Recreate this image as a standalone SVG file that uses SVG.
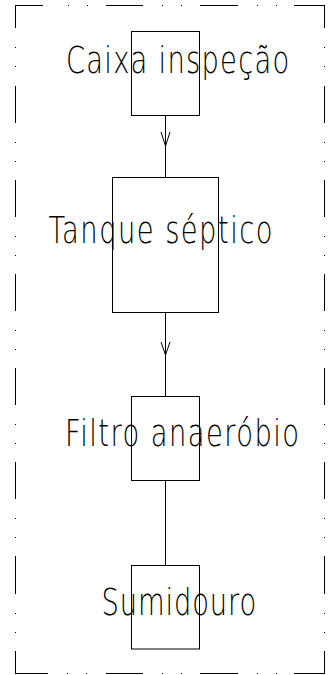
<svg xmlns="http://www.w3.org/2000/svg" width="334" height="675" viewBox="0 0 334 675">
<style>
.ln{fill:none;stroke:#000;stroke-width:1}
.box{fill:none;stroke:#000;stroke-width:1}
.lbl{font-family:"DejaVu Sans","Liberation Sans",sans-serif;font-weight:200;font-size:38px;fill:#000}
</style>
<rect x="0" y="0" width="334" height="675" fill="#fff"/>
<g id="frame" class="ln">
<path d="M16 5.5H43 M68 5.5h1 M87 5.5h1 M106 5.5H143 M162 5.5h1 M181 5.5h1 M200 5.5H238 M257 5.5h1 M276 5.5h1 M294 5.5H325"/>
<path d="M16 673.5H48 M67 673.5h1 M86 673.5h1 M106 673.5H143 M162 673.5h1 M181 673.5h1 M200 673.5H238 M257 673.5h1 M276 673.5h1 M294 673.5H325"/>
<path d="M15.5 5V28 M15.5 47v1 M15.5 66v1 M15.5 86V123 M15.5 142v1 M15.5 161v1 M15.5 180V217 M15.5 236v1 M15.5 255v1 M15.5 274V311 M15.5 330v1 M15.5 349v1 M15.5 368V405 M15.5 424v1 M15.5 443v1 M15.5 462V499 M15.5 518v1 M15.5 537v1 M15.5 556V594 M15.5 613v1 M15.5 632v1 M15.5 651V674"/>
<path d="M324.5 5V28 M324.5 47v1 M324.5 66v1 M324.5 86V123 M324.5 142v1 M324.5 161v1 M324.5 180V217 M324.5 236v1 M324.5 255v1 M324.5 274V311 M324.5 330v1 M324.5 349v1 M324.5 368V405 M324.5 424v1 M324.5 443v1 M324.5 462V499 M324.5 518v1 M324.5 537v1 M324.5 556V594 M324.5 613v1 M324.5 632v1 M324.5 651V674"/>
</g>
<g id="connectors" class="ln">
<path d="M165.5 115.5V177.5 M161 132L165.5 146L170 132"/>
<path d="M165.5 312.5V396.5 M161 342L165.5 355L170 342"/>
<path d="M165.5 480.5V565.5"/>
</g>
<g id="caixa">
<rect class="box" x="131.5" y="31.5" width="68" height="84"/>
<text class="lbl" transform="translate(66,72.7) scale(0.72,1)" x="0" y="0" textLength="310" lengthAdjust="spacing">Caixa inspeção</text>
</g>
<g id="tanque">
<rect class="box" x="112.5" y="177.5" width="106" height="135"/>
<text class="lbl" transform="translate(48.5,242.7) scale(0.72,1)" x="0" y="0" textLength="311" lengthAdjust="spacing">Tanque séptico</text>
</g>
<g id="filtro">
<rect class="box" x="131.5" y="396.5" width="68" height="84"/>
<text class="lbl" transform="translate(65,446) scale(0.72,1)" x="0" y="0" textLength="325" lengthAdjust="spacing">Filtro anaeróbio</text>
</g>
<g id="sumidouro">
<rect class="box" x="131.5" y="565.5" width="68" height="83.5"/>
<text class="lbl" transform="translate(101.5,615) scale(0.72,1)" x="0" y="0" textLength="215" lengthAdjust="spacing">Sumidouro</text>
</g>
</svg>
